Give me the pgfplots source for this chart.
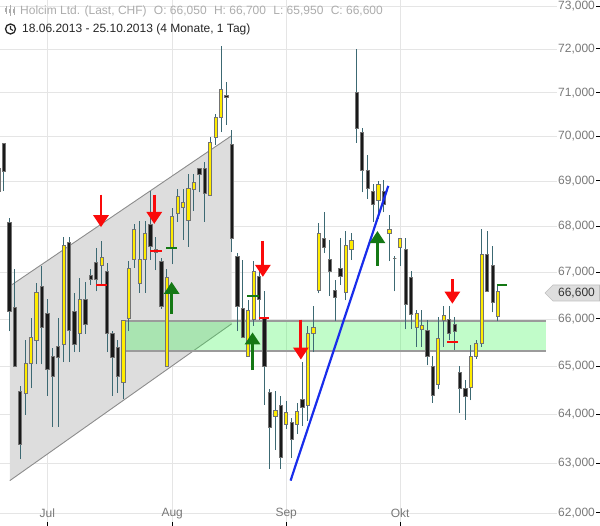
\documentclass[border=0pt]{standalone}
\usepackage{pgfplots}
\usepackage{pgfplotstable}
\usepackage{fontspec}
\setmainfont{Liberation Sans}
\pgfplotsset{compat=1.18}
\usetikzlibrary{arrows.meta}

\definecolor{gridgray}{RGB}{229,229,229}
\definecolor{lblgray}{RGB}{120,120,120}
\definecolor{hdrgray}{RGB}{172,172,172}
\definecolor{chfill}{RGB}{221,221,221}
\definecolor{chline}{RGB}{140,140,140}
\definecolor{bandgreen}{RGB}{54,246,80}
\definecolor{bandline}{RGB}{155,155,155}
\definecolor{wickcol}{RGB}{60,105,115}
\definecolor{candup}{RGB}{255,236,0}
\definecolor{candown}{RGB}{25,25,25}
\definecolor{bodyline}{RGB}{115,115,115}
\definecolor{arrred}{RGB}{250,10,10}
\definecolor{arrgreen}{RGB}{20,120,20}
\definecolor{lineblue}{RGB}{25,45,235}
\definecolor{tagfill}{RGB}{222,222,222}

\newcommand\yl[1]{\textcolor{lblgray}{#1}\hspace{1.5pt}\rule[3.3pt]{4pt}{0.8pt}}

% daily candles, i = trading day index (0 = 18.06.2013)
\pgfplotstableread{
i o h l c
0 68.77 69.27 68.77 69.27
1 69.84 69.84 68.78 69.22
2 68.08 68.19 65.74 66.17
3 66.24 67.08 64.99 64.99
4 64.48 64.59 63.08 63.38
5 64.43 65.55 64.00 65.07
6 65.07 66.02 64.55 65.62
7 65.54 66.77 65.04 66.57
8 66.69 67.15 65.04 65.83
9 66.13 66.43 64.39 64.93
10 65.21 65.39 63.75 64.78
11 65.42 66.02 63.75 65.18
12 65.47 67.77 65.09 67.58
13 67.64 67.77 65.09 65.76
14 66.17 66.56 65.30 65.47
15 65.69 66.88 65.30 66.43
16 66.43 66.79 65.69 65.88
17 66.93 67.08 66.74 66.85
18 67.22 67.53 66.59 66.85
19 67.15 67.67 66.74 67.33
20 67.02 67.19 65.30 65.69
21 65.69 65.74 64.39 65.18
22 65.39 65.55 64.45 64.78
23 64.67 65.99 64.32 65.97
24 66.02 67.24 65.74 67.08
25 67.28 68.06 67.10 67.94
26 66.77 68.13 66.56 67.28
27 67.28 68.11 66.56 67.85
28 68.05 68.79 67.28 67.57
29 67.50 67.77 67.05 67.44
30 67.23 67.30 66.22 66.27
31 65.00 67.08 65.00 66.88
32 67.53 68.39 67.17 68.23
33 68.28 68.83 68.10 68.67
34 68.43 68.83 67.71 68.53
35 68.12 69.15 67.56 68.83
36 68.81 69.15 68.34 68.97
37 69.27 69.27 68.75 69.15
38 69.27 69.42 68.10 68.74
39 68.68 69.99 68.68 69.87
40 69.99 70.50 69.82 70.42
41 70.42 72.08 70.10 71.08
42 70.93 71.23 70.27 70.88
43 69.83 70.14 67.44 67.74
44 67.34 67.41 65.74 66.27
45 66.23 67.28 65.62 65.62
46 65.22 66.40 65.20 66.18
47 65.99 67.24 65.85 67.02
48 66.92 67.13 65.99 66.43
49 66.02 66.59 64.20 65.00
50 64.45 64.53 62.89 63.73
51 63.96 64.50 63.28 64.08
52 64.18 64.39 62.89 63.13
53 63.80 64.27 63.70 64.04
54 63.83 63.93 63.12 63.49
55 63.80 64.24 63.60 64.07
56 64.31 65.09 63.76 64.14
57 64.18 65.86 63.86 65.69
58 65.69 66.28 65.30 65.83
59 66.62 68.07 66.55 67.85
60 67.74 68.31 67.42 67.55
61 67.28 67.71 66.49 67.02
62 66.62 66.83 65.95 66.47
63 67.08 67.74 66.74 66.92
64 66.57 67.90 66.40 67.58
65 67.49 67.85 67.28 67.70
66 71.00 71.99 69.86 70.18
67 70.08 70.18 68.75 69.23
68 69.23 69.59 68.61 68.83
69 68.77 68.94 68.10 68.48
70 68.58 69.00 68.17 68.94
71 68.77 69.03 68.31 68.48
72 67.85 68.25 67.24 67.94
73 67.30 67.35 66.59 67.30
74 67.55 67.74 67.13 67.74
75 67.50 67.74 65.78 66.31
76 66.88 67.02 65.78 66.09
77 65.83 66.18 65.41 66.11
78 65.78 66.18 65.41 65.87
79 65.76 65.99 65.02 65.22
80 64.99 65.22 64.24 64.39
81 64.62 66.04 64.52 65.58
82 65.97 66.28 65.41 66.07
83 65.99 66.28 65.55 65.69
84 65.88 66.04 65.34 65.73
85 64.88 65.00 64.04 64.53
86 64.53 64.71 63.89 64.38
87 64.57 65.44 64.29 65.22
88 65.22 65.55 65.16 65.48
89 65.48 67.94 65.41 67.39
90 67.39 67.90 66.59 66.59
91 67.15 67.57 66.14 66.35
92 66.05 66.70 65.95 66.60
}\candles

\begin{document}
\begin{tikzpicture}[x=1pt,y=1pt]
\begin{axis}[
  at={(0,0)}, anchor=south west,
  scale only axis, width=557pt, height=526pt,
  xmin=0.29, xmax=102.87,
  ymode=log, ymin=61.746, ymax=73.158,
  axis line style={draw=none},
  xtick={9,32,53,74},
  xticklabels={Jul,Aug,Sep,Okt},
  ytick={62,63,64,65,66,67,68,69,70,71,72,73},
  yticklabels={{\yl{62,000}},{\yl{63,000}},{\yl{64,000}},{\yl{65,000}},{\yl{66,000}},{\yl{67,000}},{\yl{68,000}},{\yl{69,000}},{\yl{70,000}},{\yl{71,000}},{\yl{72,000}},{\yl{73,000}}},
  xmajorgrids, ymajorgrids,
  grid style={draw=gridgray, line width=0.9pt},
  tick align=inside,
  major tick length=4pt,
  xtick pos=left,
  ytick style={draw=none},
  xtick style={draw=black, line width=0.6pt},
  yticklabel pos=right,
  tick label style={font=\fontsize{12}{14}\selectfont},
  yticklabel style={anchor=west, inner sep=0pt, xshift=1pt},
  xticklabel style={anchor=center, yshift=12.7pt, text=lblgray},
]
% trend channel
\addplot[fill=chfill, draw=none] coordinates {(2.1,66.70) (42.96,70.02) (42.96,65.90) (2.1,62.65)} -- cycle;
\addplot[chline, line width=0.9pt] coordinates {(2.1,66.70) (42.96,70.02)};
\addplot[chline, line width=0.9pt] coordinates {(2.1,62.65) (42.96,65.90)};
% support band
\addplot[fill=bandgreen, fill opacity=0.31, draw=none] coordinates {(23.1,65.96) (100.8,65.96) (100.8,65.32) (23.1,65.32)} -- cycle;
\addplot[bandline, line width=1.5pt] coordinates {(23.1,65.96) (100.8,65.96)};
\addplot[bandline, line width=1.5pt] coordinates {(23.1,65.32) (100.8,65.32)};

% candles
\pgfplotstablegetrowsof{\candles}
\pgfmathtruncatemacro{\lastrow}{\pgfplotsretval-1}
\pgfplotsforeachungrouped \rw in {0,...,\lastrow}{%
  \pgfplotstablegetelem{\rw}{i}\of\candles \let\vI\pgfplotsretval
  \pgfplotstablegetelem{\rw}{o}\of\candles \let\vO\pgfplotsretval
  \pgfplotstablegetelem{\rw}{h}\of\candles \let\vH\pgfplotsretval
  \pgfplotstablegetelem{\rw}{l}\of\candles \let\vL\pgfplotsretval
  \pgfplotstablegetelem{\rw}{c}\of\candles \let\vC\pgfplotsretval
  \ifdim\vC pt<\vO pt \def\bc{candown}\else\def\bc{candup}\fi
  \pgfmathsetmacro\xa{\vI-0.3}%
  \pgfmathsetmacro\xb{\vI+0.3}%
  \edef\doit{%
    \noexpand\addplot[wickcol, line width=1pt] coordinates {(\vI,\vL) (\vI,\vH)};
    \noexpand\addplot[draw=bodyline, line width=0.8pt, fill=\bc] coordinates {(\xa,\vO) (\xb,\vO) (\xb,\vC) (\xa,\vC)} -- cycle;
  }\doit
}

% trend line
\addplot[lineblue, line width=2.2pt] coordinates {(53.8,62.65) (71.8,68.90)};

% signal dashes
\addplot[arrred, line width=2pt] coordinates {(17.97,66.72) (20.0,66.72)};
\addplot[arrred, line width=2pt] coordinates {(27.9,67.46) (30.1,67.46)};
\addplot[arrred, line width=2pt] coordinates {(47.9,66.02) (49.9,66.02)};
\addplot[arrred, line width=2pt] coordinates {(82.7,65.51) (84.7,65.51)};
\addplot[arrgreen, line width=2pt] coordinates {(30.9,67.52) (32.95,67.52)};
\addplot[arrgreen, line width=2pt] coordinates {(45.8,66.50) (47.9,66.50)};
\addplot[arrgreen, line width=2pt] coordinates {(91.8,66.74) (93.7,66.74)};

% signal arrows
\addplot[arrred, line width=2.8pt, -{Triangle[width=15pt,length=12pt]}] coordinates {(18.89,68.70) (18.89,67.98)};
\addplot[arrred, line width=2.8pt, -{Triangle[width=15pt,length=12pt]}] coordinates {(28.7,68.70) (28.7,68.05)};
\addplot[arrred, line width=2.8pt, -{Triangle[width=15pt,length=12pt]}] coordinates {(48.7,67.68) (48.7,66.90)};
\addplot[arrred, line width=2.8pt, -{Triangle[width=15pt,length=12pt]}] coordinates {(55.7,65.99) (55.7,65.14)};
\addplot[arrred, line width=2.8pt, -{Triangle[width=15pt,length=12pt]}] coordinates {(83.6,66.85) (83.6,66.33)};
\addplot[arrgreen, line width=2.8pt, -{Triangle[width=15pt,length=12pt]}] coordinates {(31.9,66.11) (31.9,66.79)};
\addplot[arrgreen, line width=2.8pt, -{Triangle[width=15pt,length=12pt]}] coordinates {(46.8,64.92) (46.8,65.72)};
\addplot[arrgreen, line width=2.8pt, -{Triangle[width=15pt,length=12pt]}] coordinates {(69.8,67.15) (69.8,67.90)};
\end{axis}

% header
\begin{scope}[hdrgray, line width=0.8pt]
  \draw (6,512) -- (6,520); \draw (10,510) -- (10,521); \draw (14,511) -- (14,519);
  \fill (5,514) rectangle (7,518); \fill (9,512.5) rectangle (11,517); \fill (13,513) rectangle (15,516.5);
\end{scope}
\node[anchor=west, inner sep=0pt, text=hdrgray, font=\fontsize{12}{14}\selectfont] at (20,515)
  {Holcim Ltd. (Last, CHF)\hspace{4pt} O: 66,050\hspace{4pt} H: 66,700\hspace{4pt} L: 65,950\hspace{4pt} C: 66,600};
\draw[black!85, line width=1.3pt] (10.5,497) circle (5pt);
\draw[black!85, line width=1.1pt] (10.5,500) -- (10.5,497) -- (13,495.5);
\node[anchor=west, inner sep=0pt, text=black!85, font=\fontsize{12}{14}\selectfont] at (22,497)
  {18.06.2013 - 25.10.2013 (4 Monate, 1 Tag)};

% last price tag
\filldraw[fill=tagfill, draw=black!25, line width=0.6pt] (545,233) -- (553,241) -- (599.5,241) -- (599.5,225) -- (553,225) -- cycle;
\node[text=black!80, font=\fontsize{12}{14}\selectfont] at (576.5,233) {66,600};

\pgfresetboundingbox
\path[use as bounding box] (0,0) rectangle (600,526);
\end{tikzpicture}
\end{document}
